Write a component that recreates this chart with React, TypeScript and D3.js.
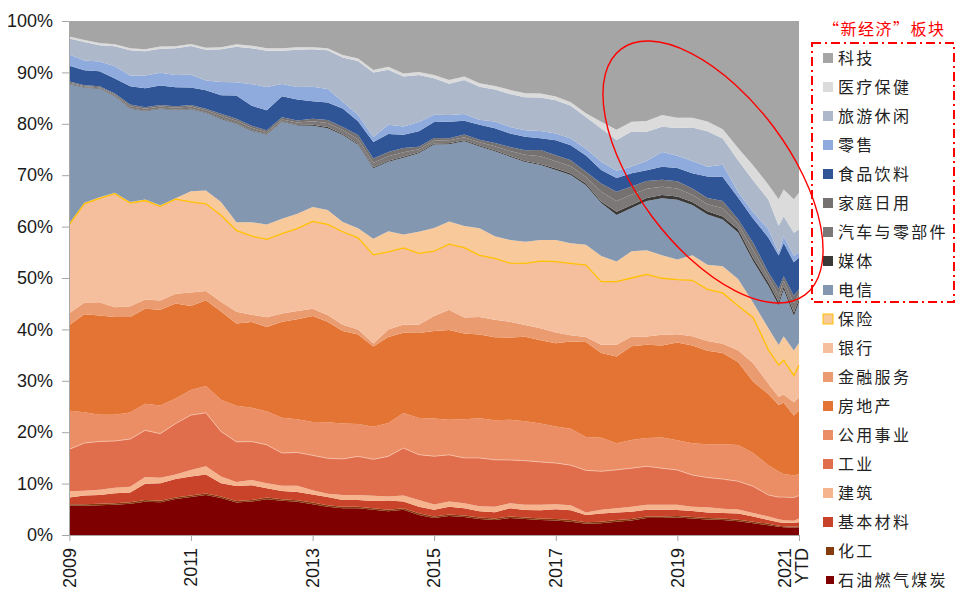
import { useEffect, useRef } from "react";
import * as d3 from "d3";

// quarterly readings (plus two extra months at the end of 2020), share of total in %
const dates = [
  "2009-01", "2009-04", "2009-07", "2009-10", "2010-01", "2010-04", "2010-07", "2010-10",
  "2011-01", "2011-04", "2011-07", "2011-10", "2012-01", "2012-04", "2012-07", "2012-10",
  "2013-01", "2013-04", "2013-07", "2013-10", "2014-01", "2014-04", "2014-07", "2014-10",
  "2015-01", "2015-04", "2015-07", "2015-10", "2016-01", "2016-04", "2016-07", "2016-10",
  "2017-01", "2017-04", "2017-07", "2017-10", "2018-01", "2018-04", "2018-07", "2018-10",
  "2019-01", "2019-04", "2019-07", "2019-10", "2020-01", "2020-04", "2020-07", "2020-09",
  "2020-10", "2020-12", "2021-01",
];

const tech = [3.0, 3.7, 4.3, 4.5, 5.3, 5.5, 5.0, 4.9, 4.5, 5.2, 5.1, 4.5, 4.8, 5.3, 5.3, 5.1, 5.1, 5.3, 6.6, 7.3, 9.5, 8.9, 10.2, 9.9, 10.5, 11.5, 10.8, 12.1, 12.6, 13.4, 14.1, 14.1, 14.7, 15.8, 18.0, 19.6, 21.2, 19.6, 19.5, 18.3, 18.9, 18.9, 19.6, 21.1, 24.8, 28.2, 31.9, 34.8, 32.9, 34.8, 33.5];
const healthcare = [0.4, 0.4, 0.4, 0.4, 0.4, 0.4, 0.4, 0.4, 0.4, 0.4, 0.4, 0.5, 0.5, 0.5, 0.5, 0.5, 0.4, 0.4, 0.5, 0.5, 0.5, 0.6, 0.6, 0.6, 0.6, 0.7, 0.7, 0.7, 0.7, 0.8, 0.8, 0.8, 0.7, 0.7, 0.7, 1.3, 2.0, 1.9, 2.1, 2.3, 2.0, 1.9, 1.9, 1.8, 2.4, 2.9, 2.9, 5.2, 5.2, 6.5, 7.1];
const leisure = [3.1, 3.6, 3.2, 3.9, 4.9, 4.7, 4.7, 5.2, 5.6, 6.0, 6.4, 6.9, 7.0, 7.1, 6.5, 7.3, 7.3, 7.5, 8.6, 10.5, 12.5, 10.7, 9.7, 9.1, 7.1, 6.1, 6.6, 6.4, 6.2, 6.4, 6.4, 6.5, 6.5, 6.4, 6.2, 6.5, 6.0, 6.8, 5.7, 4.9, 5.4, 6.5, 6.9, 5.1, 6.2, 6.2, 5.8, 5.2, 3.9, 4.5, 4.5];
const retail = [2.2, 1.9, 1.9, 2.4, 2.1, 2.5, 2.5, 2.4, 2.5, 1.9, 2.6, 2.6, 4.2, 4.5, 2.4, 2.4, 2.8, 2.6, 1.3, 1.2, 1.0, 1.8, 1.6, 1.8, 1.4, 1.3, 1.3, 1.0, 1.3, 1.3, 1.3, 1.4, 1.3, 1.3, 1.3, 1.6, 1.4, 1.3, 1.8, 2.9, 2.4, 2.4, 1.9, 2.4, 1.1, 1.3, 1.6, 0.6, 1.3, 1.3, 1.0];
const foodBev = [3.1, 2.9, 2.9, 2.9, 3.6, 3.7, 3.8, 3.7, 3.4, 3.6, 3.6, 4.5, 3.9, 3.9, 4.1, 4.1, 3.4, 3.4, 3.6, 2.7, 3.2, 3.5, 2.6, 3.0, 3.1, 3.2, 2.7, 2.9, 2.9, 2.6, 2.6, 2.3, 2.9, 2.9, 3.2, 2.6, 2.7, 2.6, 2.1, 2.5, 2.6, 3.0, 4.2, 4.7, 4.2, 4.7, 6.8, 6.5, 6.5, 6.5, 6.2];
const household = [0.2, 0.2, 0.2, 0.2, 0.3, 0.3, 0.3, 0.3, 0.3, 0.3, 0.4, 0.4, 0.4, 0.4, 0.4, 0.4, 0.5, 0.6, 0.6, 0.8, 0.8, 0.8, 0.8, 0.5, 0.5, 0.4, 0.5, 0.5, 0.6, 0.8, 0.9, 1.2, 1.2, 1.2, 1.0, 1.6, 1.8, 1.6, 1.5, 1.4, 1.4, 1.2, 1.2, 1.4, 0.9, 1.4, 0.9, 1.2, 0.9, 1.5, 0.9];
const autos = [0.2, 0.2, 0.2, 0.3, 0.4, 0.4, 0.4, 0.4, 0.4, 0.4, 0.5, 0.5, 0.5, 0.4, 0.4, 0.5, 0.7, 0.8, 0.8, 0.9, 0.9, 0.9, 0.9, 0.6, 0.6, 0.6, 0.6, 0.6, 0.8, 0.9, 1.2, 1.5, 1.4, 1.4, 1.3, 1.9, 2.1, 2.0, 1.8, 1.6, 1.6, 1.4, 1.4, 1.6, 1.1, 1.6, 1.1, 1.4, 1.1, 1.8, 1.1];
const media = [0.1, 0.1, 0.1, 0.1, 0.1, 0.1, 0.1, 0.1, 0.1, 0.1, 0.1, 0.1, 0.1, 0.1, 0.1, 0.1, 0.2, 0.2, 0.2, 0.2, 0.2, 0.2, 0.2, 0.2, 0.2, 0.2, 0.2, 0.2, 0.2, 0.2, 0.2, 0.2, 0.3, 0.3, 0.3, 0.3, 0.6, 0.6, 0.6, 0.6, 0.6, 0.6, 0.6, 0.6, 0.6, 0.6, 0.6, 0.6, 0.6, 0.6, 0.6];
const telecom = [27.1, 22.4, 21.1, 18.7, 18.2, 17.2, 18.8, 17.1, 16.0, 15.1, 16.2, 19.1, 17.8, 17.5, 18.9, 17.2, 15.8, 15.9, 16.9, 16.2, 13.7, 13.5, 14.9, 15.2, 16.2, 15.0, 16.5, 15.9, 16.5, 16.2, 15.6, 14.6, 13.6, 13.3, 11.6, 10.3, 9.1, 8.4, 9.6, 11.1, 11.7, 9.8, 9.8, 9.1, 9.1, 8.1, 8.3, 7.8, 9.1, 6.8, 7.8];
const insurance = [0.2, 0.2, 0.2, 0.2, 0.2, 0.2, 0.2, 0.2, 2.1, 2.6, 2.6, 1.6, 2.7, 2.9, 2.9, 2.9, 2.8, 2.8, 1.9, 1.9, 3.1, 4.0, 2.6, 4.2, 4.5, 4.4, 4.2, 5.3, 4.3, 4.5, 4.2, 4.1, 4.2, 3.9, 4.0, 5.0, 3.9, 5.2, 4.7, 4.5, 3.9, 4.9, 4.8, 5.2, 5.2, 2.9, 4.2, 3.9, 4.7, 4.9, 4.4];
const banks = [17.3, 19.2, 20.2, 22.1, 20.1, 19.3, 18.4, 18.4, 17.7, 17.0, 16.9, 15.8, 15.3, 15.2, 15.6, 16.1, 17.0, 17.6, 18.1, 17.8, 17.2, 15.1, 14.9, 13.9, 12.6, 12.8, 13.6, 12.0, 11.9, 11.4, 12.0, 13.1, 13.8, 14.0, 14.0, 12.3, 12.3, 11.4, 12.1, 11.0, 10.7, 10.9, 10.1, 9.9, 8.7, 8.9, 6.6, 6.2, 6.7, 5.2, 6.3];
const finServices = [2.3, 2.3, 2.6, 1.9, 2.1, 1.8, 1.8, 1.9, 2.6, 1.8, 1.9, 2.3, 1.4, 1.9, 1.6, 1.6, 1.4, 1.3, 1.2, 1.0, 0.6, 1.5, 1.6, 1.6, 2.9, 3.9, 3.1, 3.4, 3.4, 3.1, 2.3, 2.3, 2.1, 1.2, 1.0, 1.6, 2.3, 1.9, 1.6, 2.1, 1.6, 1.8, 1.9, 1.8, 2.3, 3.6, 2.0, 1.6, 1.6, 2.6, 2.6];
const realEstate = [16.7, 19.1, 19.3, 19.0, 18.6, 18.5, 18.7, 18.5, 16.4, 16.7, 17.2, 16.0, 16.7, 16.5, 18.7, 19.5, 20.6, 19.5, 18.0, 17.4, 15.6, 16.7, 15.6, 16.5, 17.0, 17.5, 16.7, 16.3, 16.1, 16.0, 16.5, 16.2, 16.2, 17.0, 18.5, 16.5, 16.9, 18.2, 18.2, 17.9, 19.1, 19.1, 18.2, 17.8, 16.2, 13.9, 13.9, 13.0, 13.9, 11.7, 12.3];
const utilities = [7.5, 6.0, 5.2, 5.1, 5.2, 5.2, 5.5, 4.9, 4.9, 5.2, 6.2, 7.0, 6.6, 6.5, 6.9, 6.5, 6.5, 7.0, 6.9, 6.3, 6.3, 6.5, 6.8, 7.1, 7.3, 6.8, 7.5, 7.7, 7.7, 7.8, 7.7, 7.5, 7.1, 7.1, 6.5, 6.5, 5.2, 5.5, 5.5, 6.0, 5.8, 6.2, 6.5, 6.8, 7.1, 6.5, 5.8, 5.0, 4.5, 4.3, 4.2];
const industrials = [8.2, 9.3, 9.4, 9.1, 9.3, 9.1, 8.6, 9.9, 10.7, 10.4, 8.8, 7.8, 7.5, 7.5, 6.4, 6.5, 6.8, 6.9, 7.0, 7.5, 7.1, 7.8, 9.2, 8.8, 9.4, 9.1, 8.8, 9.4, 9.1, 8.4, 8.6, 8.3, 8.0, 7.8, 8.2, 7.5, 7.5, 7.5, 7.5, 7.1, 6.8, 6.2, 5.8, 5.8, 5.5, 5.2, 4.2, 4.3, 4.5, 4.5, 4.5];
const construction = [1.2, 0.9, 1.0, 1.1, 1.1, 1.3, 1.1, 0.9, 1.3, 1.6, 1.3, 0.8, 1.0, 1.0, 1.0, 1.2, 0.8, 0.6, 1.0, 1.0, 1.0, 0.8, 1.2, 1.3, 1.0, 1.0, 1.0, 1.0, 1.1, 1.0, 1.0, 1.1, 1.0, 1.0, 0.5, 0.7, 0.8, 1.0, 1.0, 1.0, 1.0, 0.8, 1.0, 0.8, 0.8, 0.7, 0.7, 0.6, 0.5, 0.4, 0.7];
const materials = [1.3, 1.7, 1.7, 1.9, 1.9, 3.2, 3.4, 3.6, 3.7, 3.7, 2.6, 2.9, 2.9, 1.8, 1.6, 1.6, 1.6, 1.6, 1.3, 1.3, 1.4, 1.8, 1.3, 1.3, 1.3, 1.5, 1.4, 1.2, 1.2, 1.6, 1.5, 1.6, 1.9, 1.9, 1.4, 1.6, 1.5, 1.4, 1.3, 1.3, 1.2, 1.2, 1.1, 1.1, 1.2, 1.0, 0.7, 0.7, 0.7, 0.8, 0.8];
const chemicals = [0.3, 0.3, 0.3, 0.3, 0.3, 0.3, 0.3, 0.3, 0.3, 0.3, 0.3, 0.3, 0.3, 0.3, 0.3, 0.3, 0.3, 0.3, 0.3, 0.3, 0.3, 0.3, 0.3, 0.3, 0.3, 0.3, 0.3, 0.3, 0.3, 0.3, 0.3, 0.3, 0.3, 0.3, 0.3, 0.3, 0.3, 0.3, 0.3, 0.3, 0.3, 0.3, 0.3, 0.3, 0.3, 0.3, 0.3, 0.2, 0.2, 0.2, 0.2];
const energy = [5.7, 5.7, 5.8, 5.9, 6.1, 6.5, 6.4, 7.0, 7.4, 7.8, 7.2, 6.3, 6.5, 7.0, 6.7, 6.5, 6.0, 5.5, 5.2, 5.2, 4.9, 4.6, 4.9, 3.9, 3.3, 3.7, 3.5, 3.1, 2.9, 3.3, 3.1, 2.9, 2.8, 2.6, 2.2, 2.3, 2.6, 2.8, 3.3, 3.3, 3.4, 3.2, 3.0, 2.9, 2.7, 2.3, 1.9, 1.6, 1.5, 1.4, 1.5];

const yearTicks = [2009, 2011, 2013, 2015, 2017, 2019, 2021];
const yTicks = [0, 0.1, 0.2, 0.3, 0.4, 0.5, 0.6, 0.7, 0.8, 0.9, 1];

// legend order, top to bottom (stack order is the reverse)
const series = [
  { name: "科技", color: "#A5A5A5", values: tech },
  { name: "医疗保健", color: "#DBDBDB", values: healthcare },
  { name: "旅游休闲", color: "#ADB9CA", values: leisure },
  { name: "零售", color: "#8FAADC", values: retail },
  { name: "食品饮料", color: "#2F5597", values: foodBev },
  { name: "家庭日用", color: "#767171", values: household },
  { name: "汽车与零部件", color: "#7C7878", values: autos },
  { name: "媒体", color: "#3B3838", values: media },
  { name: "电信", color: "#8497B0", values: telecom },
  { name: "保险", color: "#F8CA9B", values: insurance },
  { name: "银行", color: "#F5BF9E", values: banks },
  { name: "金融服务", color: "#EA9C70", values: finServices },
  { name: "房地产", color: "#E37434", values: realEstate },
  { name: "公用事业", color: "#EB8D65", values: utilities },
  { name: "工业", color: "#E06E4D", values: industrials },
  { name: "建筑", color: "#F6B48E", values: construction },
  { name: "基本材料", color: "#C9432A", values: materials },
  { name: "化工", color: "#843C0C", values: chemicals },
  { name: "石油燃气煤炭", color: "#7F0000", values: energy },
];

const latin = "'Liberation Sans', Arial, sans-serif";
const cjk = "'Noto Sans CJK SC', sans-serif";

export default function App() {
  const svgRef = useRef<SVGSVGElement>(null);

  useEffect(() => {
    if (!svgRef.current) return;
    const svg = d3.select(svgRef.current);
    svg.selectAll("*").remove();

    const parse = d3.timeParse("%Y-%m");
    const rows = dates.map((d, i) => {
      const row: any = { date: parse(d) };
      series.forEach((s) => (row[s.name] = s.values[i]));
      return row;
    });
    const keys = series.map((s) => s.name).reverse();
    const stacked = d3.stack<any>().keys(keys).offset(d3.stackOffsetExpand)(rows);
    const color = new Map(series.map((s) => [s.name, s.color]));

    const x = d3.scaleTime().domain([new Date(2009, 0, 1), new Date(2021, 0, 1)]).range([69.4, 799]);
    const y = d3.scaleLinear().domain([0, 1]).range([535, 21]);

    const area = d3
      .area<any>()
      .x((d) => x(d.data.date))
      .y0((d) => y(d[0]))
      .y1((d) => y(d[1]));

    svg
      .append("g")
      .selectAll("path")
      .data(stacked)
      .join("path")
      .attr("fill", (d) => color.get(d.key) as string)
      .attr("d", area as any);

    // thin light edge on top of 工业, yellow edge under 保险
    const edge = (key: string, side: 0 | 1, stroke: string, w: number) => {
      const s = stacked.find((d) => d.key === key)!;
      const line = d3
        .line<any>()
        .x((d) => x(d.data.date))
        .y((d) => y(d[side]));
      svg.append("path").datum(s).attr("fill", "none").attr("stroke", stroke).attr("stroke-width", w).attr("d", line as any);
    };
    edge("工业", 1, "#F6C3AC", 0.8);
    edge("保险", 0, "#FFC000", 1.3);

    // y axis
    const gy = svg
      .append("g")
      .attr("transform", "translate(69,0)")
      .call(d3.axisLeft(y).tickValues(yTicks).tickFormat(d3.format(".0%") as any).tickSize(7).tickSizeOuter(0).tickPadding(9));
    gy.selectAll("path, line").attr("stroke", "#A6A6A6");
    gy.selectAll("text").attr("font-size", 18).attr("font-family", latin).attr("fill", "#1a1a1a");

    // x axis
    const gx = svg
      .append("g")
      .attr("transform", "translate(0,535)")
      .call(
        d3
          .axisBottom(x)
          .tickValues(yearTicks.map((yr) => new Date(yr, 0, 1)))
          .tickFormat(() => "")
          .tickSize(6)
          .tickSizeOuter(0)
      );
    gx.selectAll("path, line").attr("stroke", "#A6A6A6");

    const xl = svg.append("g").attr("font-size", 18).attr("font-family", latin).attr("fill", "#1a1a1a");
    yearTicks.slice(0, -1).forEach((yr) => {
      xl.append("text")
        .attr("transform", `translate(${x(new Date(yr, 0, 1))},548) rotate(-90)`)
        .attr("text-anchor", "end")
        .attr("dy", "0.35em")
        .text(yr);
    });
    const last = x(new Date(2021, 0, 1));
    xl.append("text").attr("transform", `translate(${last - 14},548) rotate(-90)`).attr("text-anchor", "end").attr("dy", "0.35em").text("2021");
    xl.append("text").attr("transform", `translate(${last + 3},548) rotate(-90)`).attr("text-anchor", "end").attr("dy", "0.35em").text("YTD");

    // legend
    const lg = svg.append("g");
    series.forEach((s, i) => {
      const cy = 58 + 29 * i;
      const small = i >= 17;
      lg.append("rect")
        .attr("x", small ? 826 : 823)
        .attr("y", cy - (small ? 4 : 5))
        .attr("width", small ? 8 : 10)
        .attr("height", small ? 8 : 10)
        .attr("fill", s.color)
        .attr("stroke", s.name === "保险" ? "#FFC000" : "none")
        .attr("stroke-width", 1);
      lg.append("text")
        .attr("x", 838)
        .attr("y", cy)
        .attr("dy", "0.36em")
        .attr("font-size", 16)
        .attr("letter-spacing", 2.3)
        .attr("font-family", cjk)
        .attr("fill", "#222")
        .text(s.name);
    });

    lg.append("text")
      .attr("x", 823)
      .attr("y", 29)
      .attr("dy", "0.36em")
      .attr("font-size", 16)
      .attr("letter-spacing", 1.5)
      .attr("font-family", cjk)
      .attr("fill", "#FF0000")
      .text("“新经济”板块");

    lg.append("rect")
      .attr("x", 812)
      .attr("y", 43)
      .attr("width", 142)
      .attr("height", 259)
      .attr("fill", "none")
      .attr("stroke", "#FF0000")
      .attr("stroke-width", 2)
      .attr("stroke-dasharray", "9,4,2,4");

    svg
      .append("ellipse")
      .attr("cx", 0)
      .attr("cy", 0)
      .attr("rx", 153.5)
      .attr("ry", 75.5)
      .attr("transform", "translate(713,172) rotate(53.2)")
      .attr("fill", "none")
      .attr("stroke", "#FF0000")
      .attr("stroke-width", 1.4);
  }, []);

  return <svg ref={svgRef} width={960} height={611} style={{ position: "absolute", left: 0, top: 0, background: "#fff" }} />;
}
